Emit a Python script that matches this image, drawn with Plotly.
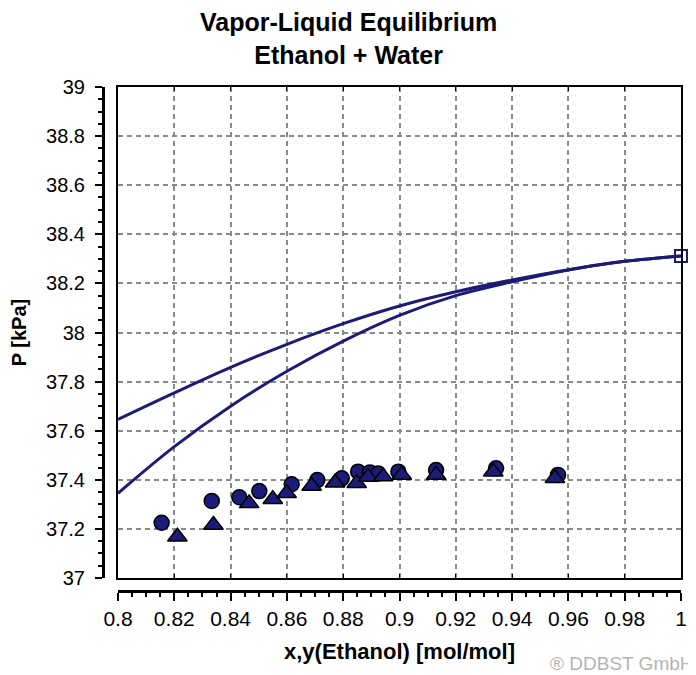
import plotly.graph_objects as go

# measured points (circles / triangles)
x_circ = [0.8155, 0.8333, 0.8431, 0.8502, 0.8617, 0.8708, 0.8795, 0.8853, 0.8895, 0.8924, 0.8996, 0.9130, 0.9343, 0.9563]
p_circ = [37.225, 37.314, 37.329, 37.354, 37.382, 37.399, 37.406, 37.433, 37.430, 37.426, 37.433, 37.440, 37.447, 37.420]

x_tri = [0.8211, 0.8339, 0.8466, 0.8550, 0.8599, 0.8688, 0.8771, 0.8848, 0.8888, 0.8942, 0.9008, 0.9130, 0.9333, 0.9552]
p_tri = [37.168, 37.216, 37.304, 37.321, 37.345, 37.375, 37.388, 37.386, 37.411, 37.413, 37.420, 37.420, 37.433, 37.406]

# calculated curves
x_curve = [0.80, 0.82, 0.84, 0.86, 0.88, 0.90, 0.92, 0.94, 0.96, 0.98, 1.00]
p_upper = [37.646, 37.754, 37.858, 37.952, 38.036, 38.108, 38.166, 38.214, 38.256, 38.290, 38.312]
p_lower = [37.345, 37.535, 37.700, 37.842, 37.965, 38.070, 38.150, 38.207, 38.255, 38.290, 38.312]

# pure component vapor pressure
x_pure = [1.0]
p_pure = [38.312]

navy = "#1c1c78"
font = "Liberation Sans"

fig = go.Figure()

fig.add_scatter(x=x_curve, y=p_upper, mode="lines", line=dict(color=navy, width=3, shape="spline"),
                hoverinfo="skip", showlegend=False)
fig.add_scatter(x=x_curve, y=p_lower, mode="lines", line=dict(color=navy, width=3, shape="spline"),
                hoverinfo="skip", showlegend=False)
fig.add_scatter(x=x_circ, y=p_circ, mode="markers", showlegend=False,
                marker=dict(symbol="circle", size=15, color=navy, line=dict(color="black", width=1.5)))
fig.add_scatter(x=x_tri, y=p_tri, mode="markers", showlegend=False,
                marker=dict(symbol="triangle-up", size=17, color=navy, line=dict(color="black", width=1.5)))
fig.add_scatter(x=x_pure, y=p_pure, mode="markers", showlegend=False, cliponaxis=False,
                marker=dict(symbol="square-open", size=12, color=navy, line=dict(width=2)))

# empty trace so the frame axes get drawn
fig.add_scatter(x=[], y=[], xaxis="x2", yaxis="y2", showlegend=False, hoverinfo="skip")

# page has an 8px body margin, so the figure is 8px smaller than the window
xdom = [15 / 578, 1]
ydom = [13 / 504, 1]
grid = dict(showgrid=True, gridcolor="#8a8a8a", gridwidth=1.5, griddash="5px,4px", zeroline=False)

fig.update_layout(
    width=688,
    height=667,
    margin=dict(l=95, r=15, t=79, b=84, autoexpand=False),
    paper_bgcolor="white",
    plot_bgcolor="white",
    font=dict(family=font, size=20, color="black"),
    # detached axes with labels
    xaxis=dict(domain=xdom, range=[0.8, 1.0], anchor="free", position=0,
               dtick=0.02, tickformat="~g", automargin=False, tickfont=dict(size=21),
               showline=True, linecolor="black", linewidth=3,
               ticks="outside", ticklen=8, tickwidth=1.5, tickcolor="black",
               minor=dict(dtick=0.005, ticks="outside", ticklen=4, tickcolor="black"),
               title=dict(text="<b>x,y(Ethanol) [mol/mol]</b>", standoff=14, font=dict(size=22)),
               **grid),
    yaxis=dict(domain=ydom, range=[37, 39], anchor="free", position=0,
               dtick=0.2, tickformat="~g", automargin=False,
               showline=True, linecolor="black", linewidth=3,
               ticks="outside", ticklen=7, tickwidth=1.5, tickcolor="black",
               ticklabelstandoff=6,
               minor=dict(dtick=0.05, ticks="outside", ticklen=4, tickcolor="black"),
               title=dict(text="<b>P [kPa]</b>", standoff=18, font=dict(size=20)),
               **grid),
    # plot frame
    xaxis2=dict(overlaying="x", range=[0.8, 1.0], anchor="y2", dtick=0.02, showticklabels=False,
                showgrid=False, zeroline=False, automargin=False,
                showline=True, linecolor="black", linewidth=1.5, mirror="ticks",
                ticks="inside", ticklen=4, tickcolor="black"),
    yaxis2=dict(overlaying="y", range=[37, 39], anchor="x2", showticklabels=False,
                showgrid=False, zeroline=False, automargin=False,
                showline=True, linecolor="black", linewidth=1.5, mirror=True, ticks=""),
)

fig.add_annotation(text="<b>Vapor-Liquid Equilibrium<br>Ethanol + Water</b>",
                   xref="paper", yref="paper", x=0.424, y=1, xanchor="center", yanchor="bottom",
                   yshift=16, showarrow=False, font=dict(size=25, family=font))

fig.add_annotation(text="® DDBST GmbH", xref="paper", yref="paper", x=1, y=0,
                   xanchor="right", yanchor="top", yshift=-60, xshift=15, showarrow=False,
                   font=dict(size=19, color="#b4b4b4"))

fig.write_html("out.html")
